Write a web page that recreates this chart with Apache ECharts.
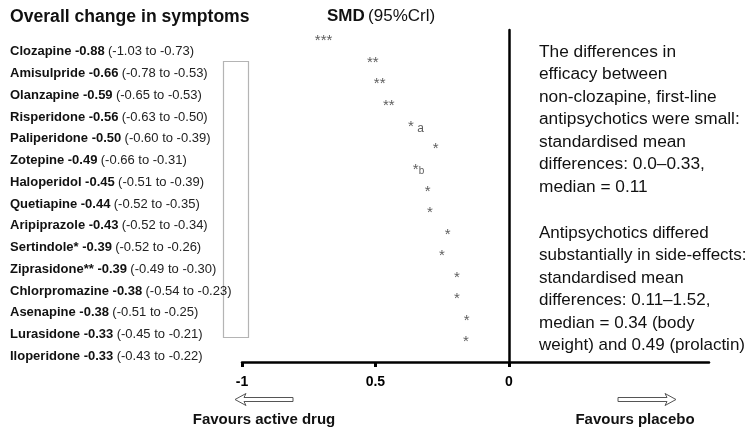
<!DOCTYPE html>
<html>
<head>
<meta charset="utf-8">
<script src="https://cdn.jsdelivr.net/npm/echarts@6/dist/echarts.min.js"></script>
<style>
  html, body { margin: 0; padding: 0; background: #fff; }
  #chart { width: 752px; height: 429px; }
</style>
</head>
<body>
<div id="chart"></div>
<script>
// Drugs, top to bottom, with SMD and 95% credible interval
var drugs = ['Clozapine', 'Amisulpride', 'Olanzapine', 'Risperidone', 'Paliperidone',
  'Zotepine', 'Haloperidol', 'Quetiapine', 'Aripiprazole', 'Sertindole*',
  'Ziprasidone**', 'Chlorpromazine', 'Asenapine', 'Lurasidone', 'Iloperidone'];
var smd   = [-0.88, -0.66, -0.59, -0.56, -0.50, -0.49, -0.45, -0.44, -0.43, -0.39, -0.39, -0.38, -0.38, -0.33, -0.33];
var lower = [-1.03, -0.78, -0.65, -0.63, -0.60, -0.66, -0.51, -0.52, -0.52, -0.52, -0.49, -0.54, -0.51, -0.45, -0.43];
var upper = [-0.73, -0.53, -0.53, -0.50, -0.39, -0.31, -0.39, -0.35, -0.34, -0.26, -0.30, -0.23, -0.25, -0.21, -0.22];

// Significance markers and where they sit along the SMD axis
var starText = ['***', '**', '**', '**', '*a', '*', '*b', '*', '*', '*', '*', '*', '*', '*', '*'];
var starPos  = [-0.727, -0.532, -0.506, -0.472, -0.378, -0.285, -0.360, -0.315, -0.307, -0.240, -0.262, -0.206, -0.206, -0.169, -0.172];

// Axis ticks and their printed labels
var tickValues = [-1, -0.5, 0];
var tickLabels = ['-1', '0.5', '0'];

var noteTop = ['The differences in', 'efficacy between', 'non-clozapine, first-line',
  'antipsychotics were small:', 'standardised mean', 'differences: 0.0\u20130.33,', 'median = 0.11'];
var noteBottom = ['Antipsychotics differed', 'substantially in side-effects:', 'standardised mean',
  'differences: 0.11\u20131.52,', 'median = 0.34 (body', 'weight) and 0.49 (prolactin)'];

var FONT = '"Liberation Sans", Arial, Helvetica, sans-serif';
var X_MIN = -1, X_MAX = 0.75;

var chart = echarts.init(document.getElementById('chart'), null, { renderer: 'canvas' });

function rowLabel(i) {
  return '{b|' + drugs[i] + ' ' + smd[i].toFixed(2) + '} {n|(' +
    lower[i].toFixed(2) + ' to ' + upper[i].toFixed(2) + ')}';
}

function starLabel(s) {
  if (s.length === 2 && s[1] !== '*') {
    return '{s|*}{' + s[1] + '|' + (s[1] === 'a' ? ' a' : 'b') + '}';
  }
  return '{s|' + s + '}';
}

function arrowPoints(tipX, y, dir) {
  // hollow arrow: open head plus a thin shaft, dir = -1 points left
  var len = 58, headL = 11, headH = 6, neck = 9, shaftH = 2;
  var p = function (dx, dy) { return [tipX - dir * dx, y + dy]; };
  return [p(0, 0), p(headL, -headH), p(neck, -shaftH), p(len, -shaftH),
          p(len, shaftH), p(neck, shaftH), p(headL, headH)];
}

var option = {
  backgroundColor: '#fff',
  animation: false,
  textStyle: { fontFamily: FONT },
  grid: [
    // main axis area with the line of no effect
    { left: 242, right: 43, top: 30, bottom: 67 },
    // drug label rows
    { left: 242, right: 43, top: 41, bottom: 62 },
    // significance marker rows
    { left: 242, right: 43, top: 30.5, bottom: 76 }
  ],
  xAxis: [
    {
      gridIndex: 0, type: 'value', min: X_MIN, max: X_MAX,
      splitLine: { show: false },
      axisLine: { show: true, onZero: false, lineStyle: { color: '#000', width: 2.5 } },
      axisTick: { show: true, customValues: tickValues, length: 5, lineStyle: { color: '#000', width: 3 } },
      axisLabel: {
        customValues: tickValues, margin: 13, color: '#000',
        fontFamily: FONT, fontSize: 14, fontWeight: 'bold',
        formatter: function (v) {
          var k = tickValues.indexOf(v);
          return k >= 0 ? tickLabels[k] : '';
        }
      }
    },
    { gridIndex: 1, type: 'value', min: X_MIN, max: X_MAX, show: false },
    { gridIndex: 2, type: 'value', min: X_MIN, max: X_MAX, show: false }
  ],
  yAxis: [
    {
      gridIndex: 0, type: 'value', min: 0, max: 1,
      axisLine: { show: true, onZero: true, lineStyle: { color: '#000', width: 2.5 } },
      axisTick: { show: false }, axisLabel: { show: false }, splitLine: { show: false }
    },
    {
      gridIndex: 1, type: 'category', data: drugs, inverse: true,
      axisLine: { show: false }, axisTick: { show: false }, splitLine: { show: false },
      axisLabel: {
        align: 'left', margin: 232, interval: 0,
        formatter: function (v, i) { return rowLabel(i); },
        rich: {
          b: { fontFamily: FONT, fontSize: 13, fontWeight: 'bold', color: '#111' },
          n: { fontFamily: FONT, fontSize: 13, color: '#222' }
        }
      }
    },
    {
      gridIndex: 2, type: 'category', data: drugs, inverse: true, show: false
    }
  ],
  series: [
    {
      name: 'markers', type: 'scatter', xAxisIndex: 2, yAxisIndex: 2,
      symbol: 'circle', symbolSize: 0.1, silent: true,
      itemStyle: { color: 'rgba(0,0,0,0)' },
      data: drugs.map(function (d, i) { return [starPos[i], i]; }),
      label: {
        show: true, position: 'inside', align: 'left', verticalAlign: 'middle',
        formatter: function (p) { return starLabel(starText[p.dataIndex]); },
        rich: {
          s: { fontFamily: FONT, fontSize: 15, color: '#333' },
          a: { fontFamily: FONT, fontSize: 12, color: '#333', padding: [3, 0, 0, 0] },
          b: { fontFamily: FONT, fontSize: 10, color: '#333', padding: [1, 0, 0, 0] }
        }
      }
    }
  ],
  graphic: [
    {
      type: 'text', left: 10, top: 8,
      style: { text: 'Overall change in symptoms', fontFamily: FONT, fontSize: 17.6, fontWeight: 'bold', fill: '#111' }
    },
    {
      type: 'text', x: 327, y: 16,
      style: {
        text: '{b|SMD} {n|(95%Crl)}', verticalAlign: 'middle',
        rich: {
          b: { fontFamily: FONT, fontSize: 17, fontWeight: 'bold', fill: '#111' },
          n: { fontFamily: FONT, fontSize: 17, fill: '#111' }
        }
      }
    },
    {
      type: 'rect', shape: { x: 223.5, y: 61.5, width: 25, height: 276 },
      style: { fill: 'none', stroke: '#b4b4b4', lineWidth: 1.2 }
    },
    {
      type: 'text', x: 539, y: 40.75,
      style: { text: noteTop.join('\n'), fontFamily: FONT, fontSize: 17.3, lineHeight: 22.5, fill: '#111' }
    },
    {
      type: 'text', x: 539, y: 222,
      style: { text: noteBottom.join('\n'), fontFamily: FONT, fontSize: 17, lineHeight: 22.5, fill: '#111' }
    },
    {
      type: 'polygon', shape: { points: arrowPoints(235, 399.5, -1) },
      style: { fill: '#fff', stroke: '#555', lineWidth: 1 }
    },
    {
      type: 'polygon', shape: { points: arrowPoints(676, 399.5, 1) },
      style: { fill: '#fff', stroke: '#555', lineWidth: 1 }
    },
    {
      type: 'text', x: 264, y: 420,
      style: { text: 'Favours active drug', align: 'center', verticalAlign: 'middle',
        fontFamily: FONT, fontSize: 15, fontWeight: 'bold', fill: '#111' }
    },
    {
      type: 'text', x: 635, y: 420,
      style: { text: 'Favours placebo', align: 'center', verticalAlign: 'middle',
        fontFamily: FONT, fontSize: 15, fontWeight: 'bold', fill: '#111' }
    }
  ]
};

chart.setOption(option);
</script>
</body>
</html>
